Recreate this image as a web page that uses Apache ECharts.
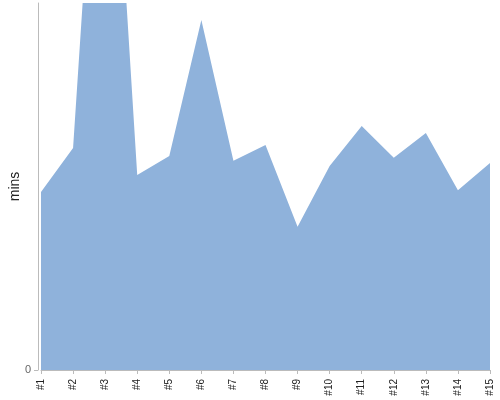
<!DOCTYPE html>
<html><head><meta charset="utf-8">
<script src="https://cdn.jsdelivr.net/npm/echarts@6/dist/echarts.min.js"></script>
<style>html,body{margin:0;padding:0;background:#fff}#c{width:500px;height:400px}</style>
</head><body><div id="c"></div>
<script>
var categories = ['#1','#2','#3','#4','#5','#6','#7','#8','#9','#10','#11','#12','#13','#14','#15'];
var minsValues = [48.5, 60.5, 193, 53.1, 58.3, 95.4, 57, 61.3, 39, 55.6, 66.5, 57.8, 64.6, 49, 56.4];
var yTickValues = [0];
var chart = echarts.init(document.getElementById('c'), null, {renderer:'canvas'});
chart.setOption({
  animation: false,
  grid: {left: 41, right: 10, top: 3, bottom: 30, containLabel: false, outerBoundsMode: 'none'},
  xAxis: {
    type: 'category', data: categories, boundaryGap: false, offset: 3,
    axisLine: {lineStyle: {color: '#bbb'}},
    axisTick: {length: 4, lineStyle: {color: '#bbb'}, alignWithLabel: true},
    axisLabel: {rotate: 90, fontSize: 10, color: '#222', fontFamily: 'Liberation Sans', margin: 6, interval: 0}
  },
  yAxis: {
    type: 'value', min: 0, max: 100, offset: 3,
    name: 'mins', nameLocation: 'middle', nameGap: 16, nameMoveOverlap: false,
    nameTextStyle: {fontSize: 14, color: '#222', fontFamily: 'Liberation Sans'},
    axisLine: {show: true, lineStyle: {color: '#bbb'}},
    axisTick: {show: true, length: 4, lineStyle: {color: '#bbb'}, customValues: yTickValues},
    axisLabel: {fontSize: 11, color: '#666', fontFamily: 'Liberation Sans', margin: 7, customValues: yTickValues},
    splitLine: {show: false}
  },
  series: [{
    type: 'line', data: minsValues, symbol: 'none',
    lineStyle: {width: 0, color: '#8fb2db'},
    itemStyle: {color: '#8fb2db'},
    areaStyle: {color: '#8fb2db', opacity: 1}
  }]
});
</script></body></html>
